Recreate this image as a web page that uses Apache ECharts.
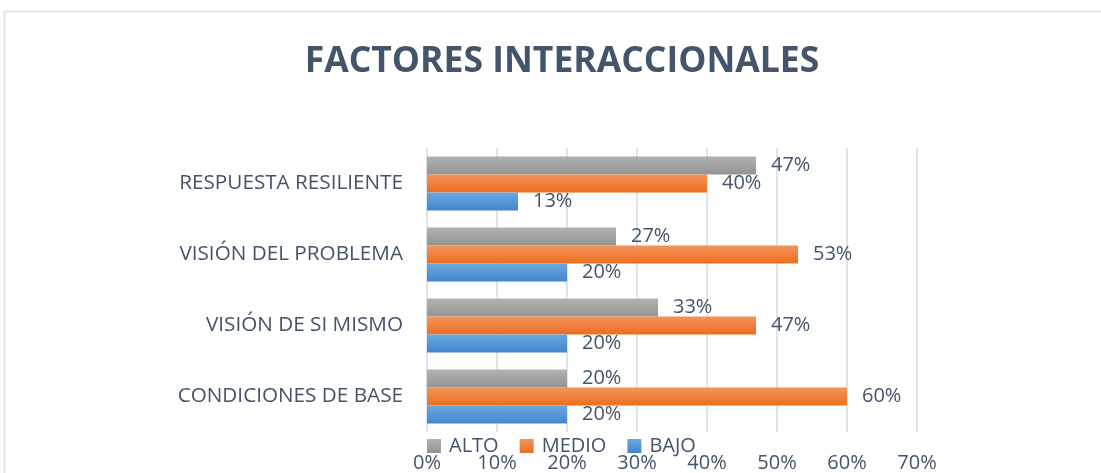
<!DOCTYPE html>
<html>
<head>
<meta charset="utf-8">
<script src="https://cdn.jsdelivr.net/npm/echarts@6/dist/echarts.min.js"></script>
<style>
  html, body { margin: 0; padding: 0; background: #fff; }
  #main { width: 1101px; height: 473px; }
</style>
</head>
<body>
<div id="main"></div>
<script>
// datos
var categorias = ['CONDICIONES DE BASE', 'VISIÓN DE SI MISMO', 'VISIÓN DEL PROBLEMA', 'RESPUESTA RESILIENTE'];
var alto = [20, 33, 27, 47];
var medio = [60, 47, 53, 40];
var bajo = [20, 20, 20, 13];
var ticks = [0, 10, 20, 30, 40, 50, 60, 70];

var textColor = '#44546A';
var fuente = 'Open Sans';

function grad(top, bottom) {
    return new echarts.graphic.LinearGradient(0, 0, 0, 1, [
        { offset: 0, color: top },
        { offset: 1, color: bottom }
    ]);
}

var myChart = echarts.init(document.getElementById('main'));

function serie(name, data, color) {
    return {
        name: name,
        type: 'bar',
        data: data,
        barWidth: 18,
        barGap: '0%',
        itemStyle: { color: color },
        label: {
            show: true,
            position: 'right',
            distance: 15,
            formatter: '{c}%',
            color: textColor,
            fontFamily: fuente,
            fontSize: 20
        }
    };
}

var option = {
    animation: false,
    backgroundColor: '#fff',
    textStyle: { fontFamily: fuente },
    graphic: [{
        type: 'rect',
        shape: { x: 4.5, y: 11.5, width: 1200, height: 600 },
        style: { fill: 'none', stroke: '#e1e5eb', lineWidth: 2 },
        silent: true
    }],
    title: {
        text: 'FACTORES INTERACCIONALES',
        left: 557,
        textAlign: 'center',
        top: 39,
        textStyle: {
            color: textColor,
            fontFamily: fuente,
            fontWeight: 'bold',
            fontSize: 35.5
        }
    },
    legend: {
        data: ['ALTO', 'MEDIO', 'BAJO'],
        left: 422,
        top: 431,
        icon: 'rect',
        itemWidth: 14,
        itemHeight: 14,
        itemGap: 21,
        textStyle: { color: textColor, fontFamily: fuente, fontSize: 20, padding: [0, 0, 0, 3] }
    },
    grid: { left: 427, right: 184, top: 148, bottom: 41, containLabel: false },
    xAxis: {
        type: 'value',
        min: ticks[0],
        max: ticks[ticks.length - 1],
        interval: 10,
        axisLine: { show: false },
        axisTick: { show: false },
        axisLabel: { formatter: '{value}%', color: textColor, fontFamily: fuente, fontSize: 20, margin: 21 },
        splitLine: { show: true, lineStyle: { color: '#dfe3ea', width: 2 } }
    },
    yAxis: {
        type: 'category',
        data: categorias,
        axisLine: { show: false },
        axisTick: { show: false },
        axisLabel: { color: textColor, fontFamily: fuente, fontSize: 20.7, margin: 24 }
    },
    series: [
        serie('ALTO', alto, grad('#b2b2b2', '#939393')),
        serie('MEDIO', medio, grad('#f4935c', '#eb6e1f')),
        serie('BAJO', bajo, grad('#6aaae0', '#4285cb'))
    ]
};

myChart.setOption(option);
</script>
</body>
</html>
